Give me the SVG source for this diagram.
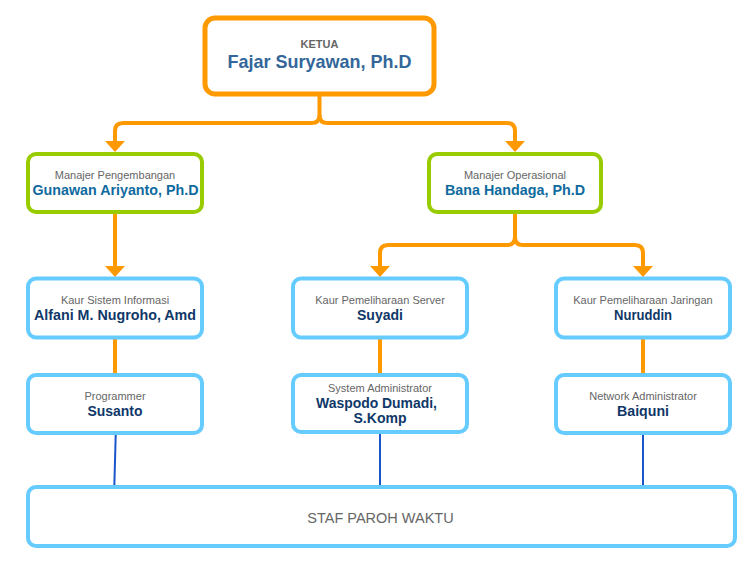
<svg xmlns="http://www.w3.org/2000/svg" width="753" height="566" viewBox="0 0 753 566">
<style>
.box{fill:#fff;stroke-width:4}
.top{stroke:#FF9900;stroke-width:5}
.mgr{stroke:#99CC00}
.sub{stroke:#66CCFF}
.lbl{font-family:"Liberation Sans",Arial,sans-serif;font-size:11px;fill:#666;text-anchor:middle}
.nm{font-family:"Liberation Sans",Arial,sans-serif;font-size:15px;font-weight:bold;text-anchor:middle}
.n1{fill:#336699}
.n2{fill:#0F6A9E}
.n3{fill:#0F3868}
.or{fill:none;stroke:#FF9900;stroke-width:4}
.bl{fill:none;stroke:#1A55CC;stroke-width:2}
</style>
<defs>
<marker id="ah" viewBox="0 0 11 20" refX="3" refY="10" markerWidth="11" markerHeight="20" markerUnits="userSpaceOnUse" orient="auto">
<path d="M0,0 L11,10 L0,20 z" fill="#FF9900"/>
</marker>
</defs>
<g id="connectors">
<path class="or" d="M319.5,96 V115 Q319.5,123 311.5,123 H123 Q115,123 115,131 V144" marker-end="url(#ah)"/>
<path class="or" d="M319.5,115 Q319.5,123 327.5,123 H507 Q515,123 515,131 V144" marker-end="url(#ah)"/>
<path class="or" d="M115,213 V269" marker-end="url(#ah)"/>
<path class="or" d="M515,213 V237 Q515,245 507,245 H388 Q380,245 380,253 V269" marker-end="url(#ah)"/>
<path class="or" d="M515,237 Q515,245 523,245 H635 Q643,245 643,253 V269" marker-end="url(#ah)"/>
<path class="or" d="M115,339 V374"/>
<path class="or" d="M380,339 V374"/>
<path class="or" d="M643,339 V374"/>
<path class="bl" d="M115.7,435 L114.3,487"/>
<path class="bl" d="M380,434 V487"/>
<path class="bl" d="M643,435 V487"/>
</g>
<g id="ketua">
<rect class="box top" x="205" y="18" width="229" height="76" rx="10"/>
<text x="319.5" y="48" style="font-family:'Liberation Sans',Arial,sans-serif;font-size:11px;font-weight:bold;fill:#666;text-anchor:middle">KETUA</text>
<text x="319.5" y="67.5" class="n1" style="font-family:'Liberation Sans',Arial,sans-serif;font-size:19px;font-weight:bold;text-anchor:middle" textLength="184" lengthAdjust="spacingAndGlyphs">Fajar Suryawan, Ph.D</text>
</g>
<g id="mgr-pengembangan">
<rect class="box mgr" x="28" y="154" width="174" height="58" rx="8"/>
<text class="lbl" x="115" y="179">Manajer Pengembangan</text>
<text class="nm n2" x="115.5" y="195" textLength="166" lengthAdjust="spacingAndGlyphs">Gunawan Ariyanto, Ph.D</text>
</g>
<g id="mgr-operasional">
<rect class="box mgr" x="429" y="154" width="172" height="58" rx="8"/>
<text class="lbl" x="515" y="179">Manajer Operasional</text>
<text class="nm n2" x="515" y="195" textLength="140" lengthAdjust="spacingAndGlyphs">Bana Handaga, Ph.D</text>
</g>
<g id="kaur-si">
<rect class="box sub" x="28" y="278.5" width="174" height="59" rx="8"/>
<text class="lbl" x="115" y="304">Kaur Sistem Informasi</text>
<text class="nm n3" x="115" y="320" textLength="162" lengthAdjust="spacingAndGlyphs">Alfani M. Nugroho, Amd</text>
</g>
<g id="kaur-server">
<rect class="box sub" x="293" y="278.5" width="174" height="59" rx="8"/>
<text class="lbl" x="380" y="304">Kaur Pemeliharaan Server</text>
<text class="nm n3" x="380" y="320" textLength="46" lengthAdjust="spacingAndGlyphs">Suyadi</text>
</g>
<g id="kaur-jaringan">
<rect class="box sub" x="556" y="278.5" width="174" height="59" rx="8"/>
<text class="lbl" x="643" y="304">Kaur Pemeliharaan Jaringan</text>
<text class="nm n3" x="643" y="320" textLength="58" lengthAdjust="spacingAndGlyphs">Nuruddin</text>
</g>
<g id="programmer">
<rect class="box sub" x="28" y="375" width="174" height="58" rx="8"/>
<text class="lbl" x="115" y="400">Programmer</text>
<text class="nm n3" x="115" y="415.7" textLength="55" lengthAdjust="spacingAndGlyphs">Susanto</text>
</g>
<g id="sysadmin">
<rect class="box sub" x="293" y="375" width="174" height="57" rx="8"/>
<text class="lbl" x="380" y="391.7">System Administrator</text>
<text class="nm n3" x="376.5" y="407.7" textLength="121" lengthAdjust="spacingAndGlyphs">Waspodo Dumadi,</text>
<text class="nm n3" x="380" y="423.3" textLength="53" lengthAdjust="spacingAndGlyphs">S.Komp</text>
</g>
<g id="netadmin">
<rect class="box sub" x="556" y="375" width="174" height="58" rx="8"/>
<text class="lbl" x="643" y="400">Network Administrator</text>
<text class="nm n3" x="643" y="415.7" textLength="52" lengthAdjust="spacingAndGlyphs">Baiquni</text>
</g>
<g id="staf">
<rect class="box sub" x="28" y="487" width="707" height="59" rx="8"/>
<text x="380.5" y="523" style="font-family:'Liberation Sans',Arial,sans-serif;font-size:14.5px;fill:#666;text-anchor:middle">STAF PAROH WAKTU</text>
</g>
</svg>
